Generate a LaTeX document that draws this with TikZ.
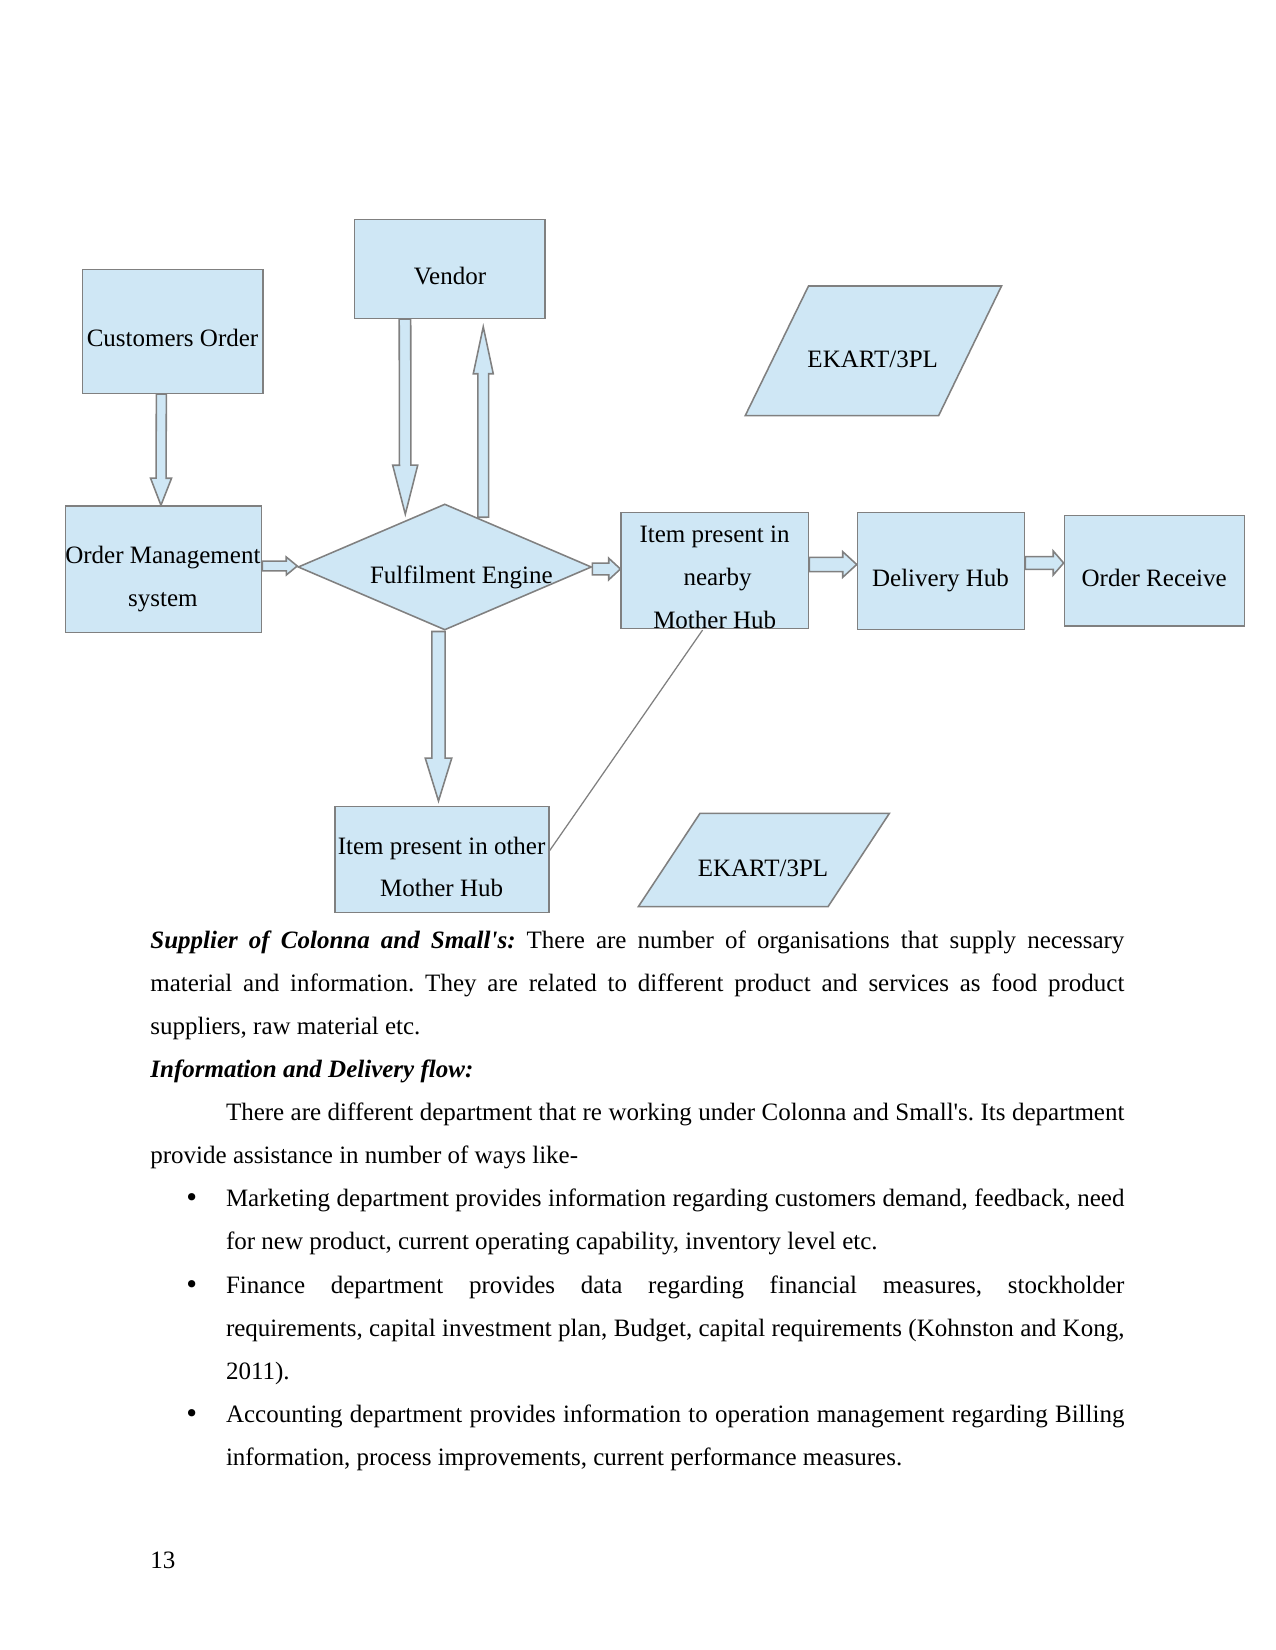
\documentclass[tikz,border=0pt]{standalone}
\usepackage{fontspec}
\setmainfont{Liberation Serif}
\newfontfamily\rmplain{Liberation Serif}
\newfontfamily\bulletfont{DejaVu Sans}
\usetikzlibrary{calc,shapes.geometric}
\newdimen\px \px=0.48pt
\definecolor{boxfill}{RGB}{207,231,245}
\definecolor{boxline}{RGB}{128,128,128}
\tikzset{
  box/.style={draw=boxline, fill=boxfill, line width=0.75pt, rectangle, inner sep=0pt},
  blk/.style={draw=boxline, fill=boxfill, line width=0.75pt, line join=miter},
  lbl/.style={anchor=base, inner sep=0pt},
  txt/.style={anchor=base west, inner sep=0pt},
  bul/.style={anchor=base, inner sep=0pt, font=\bulletfont\fontsize{12}{14}\selectfont},
  thin/.style={draw=boxline, line width=0.6pt}
}
\newcommand\blockarrow[5]{%
  \coordinate (ba-s) at #1;
  \coordinate (ba-t) at #2;
  \coordinate (ba-h) at ($(ba-t)!#5!(ba-s)$);
  \draw[blk] ($(ba-s)!#3!90:(ba-t)$) -- ($(ba-h)!#3!90:(ba-t)$) -- ($(ba-h)!#4!90:(ba-t)$) -- (ba-t)
     -- ($(ba-h)!#4!-90:(ba-t)$) -- ($(ba-h)!#3!-90:(ba-t)$) -- ($(ba-s)!#3!-90:(ba-t)$) -- cycle;
}
\begin{document}
\begin{tikzpicture}[x=0.48pt, y=-0.48pt, font=\rmplain\fontsize{12}{14}\selectfont\frenchspacing]
\path[use as bounding box, fill=white] (0,0) rectangle (1275,1650);

% boxes
\node[box, minimum width=180.7*0.48pt, minimum height=124*0.48pt] (co) at (172.85,331.3) {};
\node[box, minimum width=190.9*0.48pt, minimum height=99*0.48pt] (ven) at (449.75,268.8) {};
\node[box, minimum width=196.3*0.48pt, minimum height=126.7*0.48pt] (oms) at (163.45,569.35) {};
\node[box, shape=diamond, minimum width=293.5*0.48pt, minimum height=126*0.48pt] (fe) at (444.8,567) {};
\node[box, minimum width=187.3*0.48pt, minimum height=116*0.48pt] (item) at (714.85,570.3) {};
\node[box, minimum width=167*0.48pt, minimum height=117*0.48pt] (dh) at (941,570.8) {};
\node[box, minimum width=180*0.48pt, minimum height=110.3*0.48pt] (or) at (1154.4,570.85) {};
\node[box, minimum width=213.6*0.48pt, minimum height=105.6*0.48pt] (oth) at (442,859.5) {};

% parallelograms
\draw[blk] (745.2,415.7) -- (808.5,286) -- (1001.5,286) -- (938.6,415.7) -- cycle;
\draw[blk] (638.3,906.7) -- (700,813.3) -- (889.4,813.3) -- (828,906.7) -- cycle;

% block arrows
\blockarrow{($(co.south)+(-11.5,0)$)}{($(oms.north)+(-2.5,0)$)}{2.4pt}{5.04pt}{12.96pt}
\blockarrow{($(ven.south)+(-44.8,0)$)}{($(fe.north)+(-39.5,11)$)}{2.76pt}{6pt}{23.52pt}
\blockarrow{($(fe.north)+(38.5,14)$)}{($(ven.south)+(33.5,7.7)$)}{2.57pt}{4.8pt}{22.56pt}
\blockarrow{($(oms.east)+(0,-3.3)$)}{($(fe.west)+(0,-1)$)}{2.33pt}{4.32pt}{5.28pt}
\blockarrow{($(fe.east)+(0,2)$)}{($(item.west)+(0,-1.3)$)}{2.78pt}{5.18pt}{5.62pt}
\blockarrow{($(item.east)+(0,-5.8)$)}{($(dh.west)+(0,-6.3)$)}{3.46pt}{6.14pt}{6.72pt}
\blockarrow{($(dh.east)+(0,-7.8)$)}{($(or.west)+(0,-7.85)$)}{3.02pt}{5.76pt}{4.99pt}
\blockarrow{($(fe.south)+(-6.3,0.7)$)}{($(oth.north)+(-3.5,-5)$)}{3.22pt}{6.34pt}{20.5pt}

% diagonal line
\draw[thin] ($(oth.east)+(0,-8.8)$) -- ($(item.south)+(-12.3,1)$);

% box texts
\node[lbl] (tco) at (172.5,346.7) {Customers Order};
\node[lbl] (tven) at (450,285) {Vendor};
\node[lbl] (tek1) at (872.7,367.3) {EKART/3PL};
\node[lbl] (toms1) at (162.9,563.3) {Order Management};
\node[lbl] (toms2) at (162.9,606.7) {system};
\node[lbl] (tfe) at (461.4,583.3) {Fulfilment Engine};
\node[lbl] (titem1) at (714.5,542.7) {Item present in};
\node[lbl] (titem2) at (717.5,585.5) {nearby};
\node[lbl] (titem3) at (714.7,628.3) {Mother Hub};
\node[lbl] (tdh) at (940.5,586.7) {Delivery Hub};
\node[lbl] (tor) at (1154.2,586.7) {Order Receive};
\node[lbl] (toth1) at (441.6,854) {Item present in other};
\node[lbl] (toth2) at (441.6,896.7) {Mother Hub};
\node[lbl] (tek2) at (763,876) {EKART/3PL};

% body text
\node[txt] (l1) at (150,948) {\makebox[974\px][s]{\textbf{\textit{Supplier of Colonna and Small's:}} There are number of organisations that supply necessary}};
\node[txt] (l2) at (150,991.1) {\makebox[974\px][s]{material and information. They are related to different product and services as food product}};
\node[txt] (l3) at (150,1034.3) {suppliers, raw material etc.};
\node[txt] (l4) at (150,1077.4) {\textbf{\textit{Information and Delivery flow:}}};
\node[txt] (l5) at (225.6,1120.5) {\makebox[898.4\px][s]{There are different department that re working under Colonna and Small's. Its department}};
\node[txt] (l6) at (150,1163.7) {provide assistance in number of ways like-};
\node[bul] (b1) at (191.8,1206.8) {•};
\node[txt] (l7) at (225.6,1206.8) {\makebox[898.4\px][s]{Marketing department provides information regarding customers demand, feedback, need}};
\node[txt] (l8) at (225.6,1249.9) {for new product, current operating capability, inventory level etc.};
\node[bul] (b2) at (191.8,1293) {•};
\node[txt] (l9) at (225.6,1293) {\makebox[898.4\px][s]{Finance department provides data regarding financial measures, stockholder}};
\node[txt] (l10) at (225.6,1336.2) {\makebox[898.4\px][s]{requirements, capital investment plan, Budget, capital requirements (Kohnston and Kong,}};
\node[txt] (l11) at (225.6,1379.3) {2011).};
\node[bul] (b3) at (191.8,1422.4) {•};
\node[txt] (l12) at (225.6,1422.4) {\makebox[898.4\px][s]{Accounting department provides information to operation management regarding Billing}};
\node[txt] (l13) at (225.6,1465.6) {information, process improvements, current performance measures.};
\node[txt] (pg) at (150,1568) {13};
\end{tikzpicture}
\end{document}
